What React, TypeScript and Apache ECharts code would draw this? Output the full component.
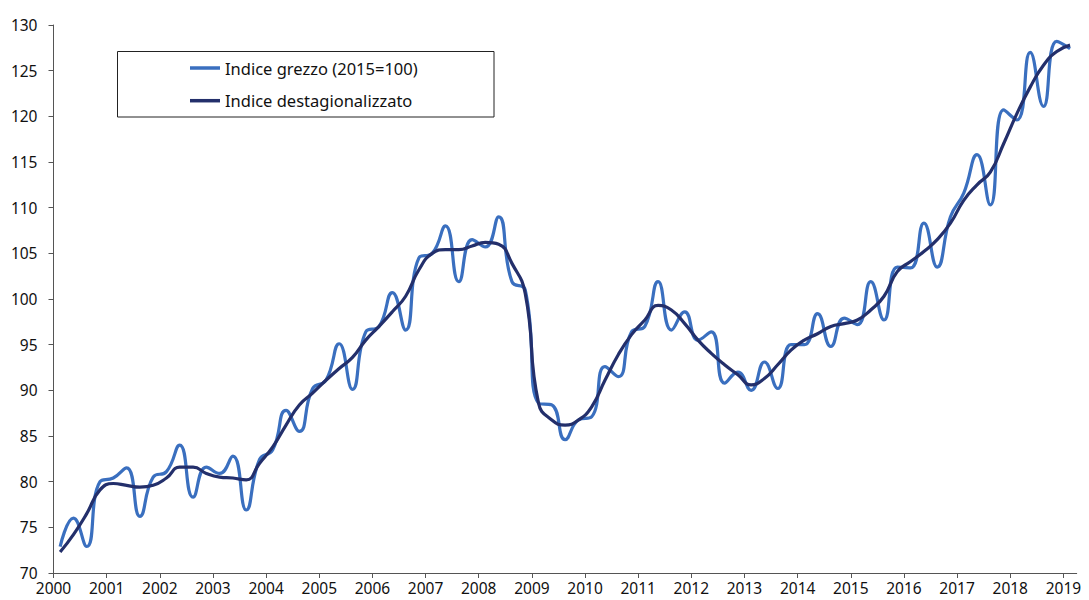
import React, { useEffect, useRef } from "react";
import * as echarts from "echarts";

const years = [
  "2000", "2001", "2002", "2003", "2004", "2005", "2006", "2007", "2008", "2009",
  "2010", "2011", "2012", "2013", "2014", "2015", "2016", "2017", "2018", "2019",
];

const seriesNames = ["Indice grezzo (2015=100)", "Indice destagionalizzato"];

// quarterly values, 2000 Q1 .. 2019 Q1
const rawIndex = [
  72.9, 76.0, 72.9, 80.0,
  80.4, 81.5, 76.2, 80.5,
  81.1, 84.0, 78.3, 81.6,
  80.9, 82.8, 76.9, 82.4,
  83.5, 87.8, 85.5, 90.2,
  91.1, 95.1, 90.1, 96.4,
  97.0, 100.7, 96.6, 104.5,
  105.0, 108.0, 101.9, 106.5,
  105.7, 109.0, 101.9, 101.0,
  88.6, 88.4, 84.6, 86.75,
  87.1, 92.6, 91.5, 96.4,
  97.0, 101.9, 96.6, 98.6,
  95.5, 96.4, 90.8, 92.0,
  90.0, 93.1, 90.2, 95.0,
  95.0, 98.4, 94.8, 97.9,
  97.2, 101.9, 97.7, 103.5,
  103.4, 108.3, 103.5, 109.0,
  111.6, 115.8, 110.3, 120.7,
  119.6, 127.0, 121.1, 128.2,
  127.4,
];

const saIndex = [
  72.3, 74.2, 76.5, 79.1,
  79.8, 79.6, 79.4, 79.6,
  80.4, 81.6, 81.6, 80.9,
  80.5, 80.4, 80.2, 82.0,
  83.8, 86.2, 88.4, 89.7,
  91.1, 92.4, 93.6, 95.5,
  97.0, 98.6, 100.3, 103.2,
  105.0, 105.4, 105.4, 105.8,
  106.2, 106.0, 103.9, 100.6,
  88.6, 86.75, 86.2, 86.75,
  88.2, 91.1, 93.9, 96.1,
  97.7, 99.3, 98.8, 97.3,
  95.5, 94.05, 92.8, 91.7,
  90.6, 91.3, 92.8, 94.4,
  95.5, 96.2, 97.0, 97.3,
  97.7, 98.8, 100.3, 103.0,
  104.1, 105.2, 106.5, 108.3,
  110.8, 112.5, 113.9, 117.0,
  120.3, 123.2, 125.6, 127.1,
  127.8,
];

const RAW_COLOR = "#3a6fbf";
const SA_COLOR = "#232f6b";
const FONT = "'Noto Sans', 'DejaVu Sans', sans-serif";

export default function App() {
  const ref = useRef<HTMLDivElement>(null);

  useEffect(() => {
    if (!ref.current) return;
    const chart = echarts.init(ref.current, null, { renderer: "svg" });
    const nQ = rawIndex.length;
    const yearTicks = years.map((_, i) => i * 4);
    const toPoints = (arr: number[]) => arr.map((v, i) => [i + 0.5, v]);

    chart.setOption({
      animation: false,
      backgroundColor: "#ffffff",
      textStyle: { fontFamily: FONT },
      grid: { left: 53.5, right: 12.3, top: 25, bottom: 27 },
      xAxis: {
        type: "value",
        min: 0,
        max: nQ,
        splitLine: { show: false },
        axisLine: { show: true, lineStyle: { color: "#555555", width: 1 } },
        axisTick: {
          show: true,
          length: 5,
          customValues: yearTicks,
          lineStyle: { color: "#555555" },
        },
        axisLabel: {
          customValues: yearTicks,
          formatter: (v: number) => years[Math.round(v / 4)] ?? "",
          color: "#111111",
          fontSize: 15.5,
          fontFamily: FONT,
          margin: 7,
        },
      },
      yAxis: {
        type: "value",
        min: 70,
        max: 130,
        interval: 5,
        splitLine: { show: false },
        axisLine: { show: true, lineStyle: { color: "#555555", width: 1 } },
        axisTick: { show: true, length: 5, lineStyle: { color: "#555555" } },
        axisLabel: {
          color: "#111111",
          fontSize: 15.5,
          fontFamily: FONT,
          margin: 16,
        },
      },
      legend: {
        orient: "vertical",
        left: 190,
        top: 58,
        padding: 0,
        itemGap: 12.7,
        itemWidth: 30,
        itemHeight: 3.5,
        icon: "rect",
        textStyle: { fontSize: 16.5, color: "#111111", fontFamily: FONT, lineHeight: 20 },
        data: seriesNames,
      },
      graphic: [
        {
          type: "rect",
          shape: { x: 117.5, y: 51.5, width: 376.5, height: 65.5 },
          style: { fill: "#ffffff", stroke: "#222222", lineWidth: 1 },
          z: 0,
        },
      ],
      series: [
        {
          name: seriesNames[0],
          type: "line",
          data: toPoints(rawIndex),
          smooth: 0.5,
          showSymbol: false,
          symbol: "none",
          lineStyle: { color: RAW_COLOR, width: 3.2 },
          itemStyle: { color: RAW_COLOR },
          z: 2,
        },
        {
          name: seriesNames[1],
          type: "line",
          data: toPoints(saIndex),
          smooth: 0.5,
          showSymbol: false,
          symbol: "none",
          lineStyle: { color: SA_COLOR, width: 3.2 },
          itemStyle: { color: SA_COLOR },
          z: 3,
        },
      ],
    });

    return () => chart.dispose();
  }, []);

  return (
    <div
      ref={ref}
      style={{ position: "fixed", left: 0, top: 0, width: 1089, height: 600 }}
    />
  );
}
